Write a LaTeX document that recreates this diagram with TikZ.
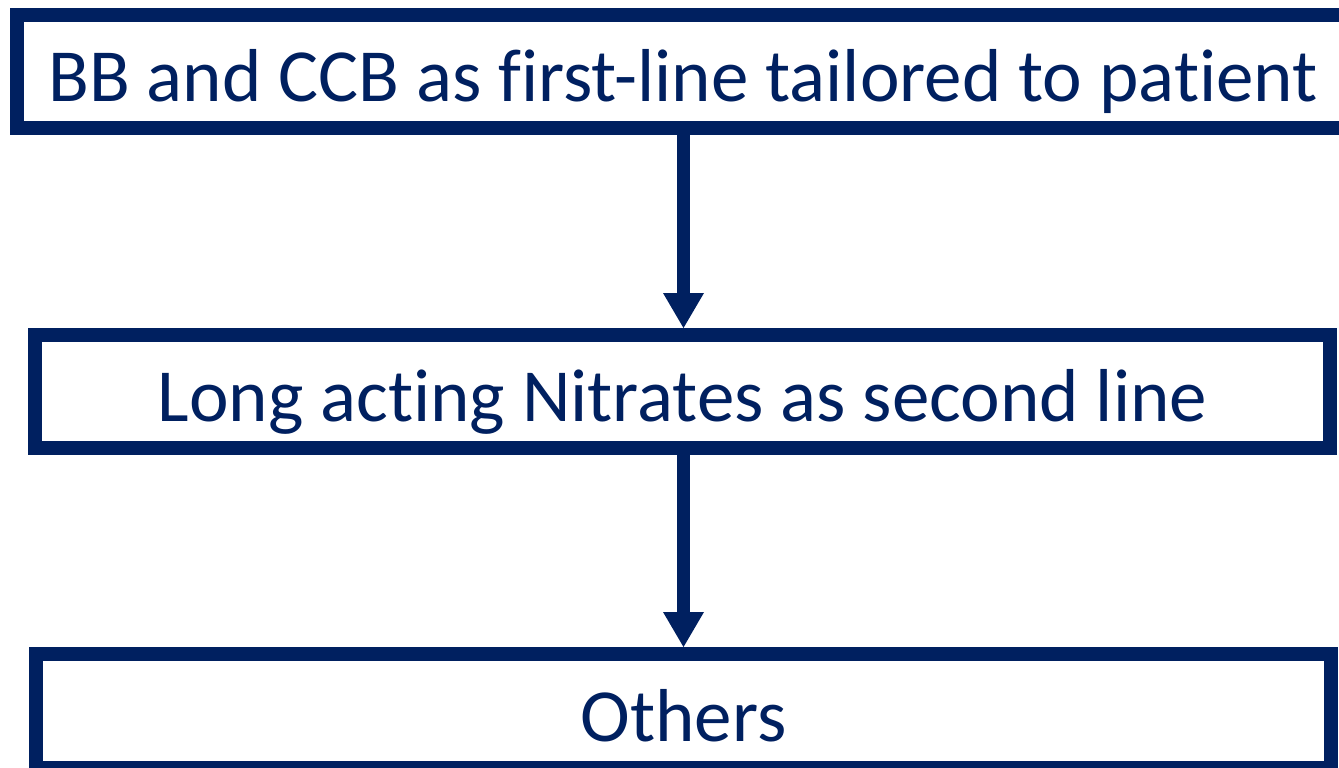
\documentclass[tikz,border=0pt]{standalone}
\usepackage{fontspec}
\setmainfont{Carlito}[Ligatures={NoCommon}]
\usetikzlibrary{arrows.meta}
\definecolor{navy}{HTML}{002060}
\begin{document}
\begin{tikzpicture}[x=1pt,y=-1pt,
  box/.style={draw=navy, line width=14pt, text=navy, inner sep=0pt,
    font=\fontsize{75}{90}\selectfont, text height=60pt, text depth=0pt,
    align=center, fill=white},
  conn/.style={draw=navy, line width=13pt,
    -{Triangle[width=41pt,length=35pt,line width=0pt]}}]
\useasboundingbox (0,0) rectangle (1339,768);
\node[box, minimum width=1333pt, minimum height=112.5pt] (b1) at (683,71.25)
  {BB and CCB as first-line tailored to patient};
\node[box, minimum width=1295pt, minimum height=113pt] (b2) at (682.5,391.5)
  {Long acting Nitrates as second line};
\node[box, minimum width=1295pt, minimum height=114pt] (b3) at (683.5,711)
  {Others};
\draw[conn] (b1.south -| 683.5,0) -- (b2.north -| 683.5,0);
\draw[conn] (b2.south -| 683.5,0) -- (b3.north -| 683.5,0);
\end{tikzpicture}
\end{document}
